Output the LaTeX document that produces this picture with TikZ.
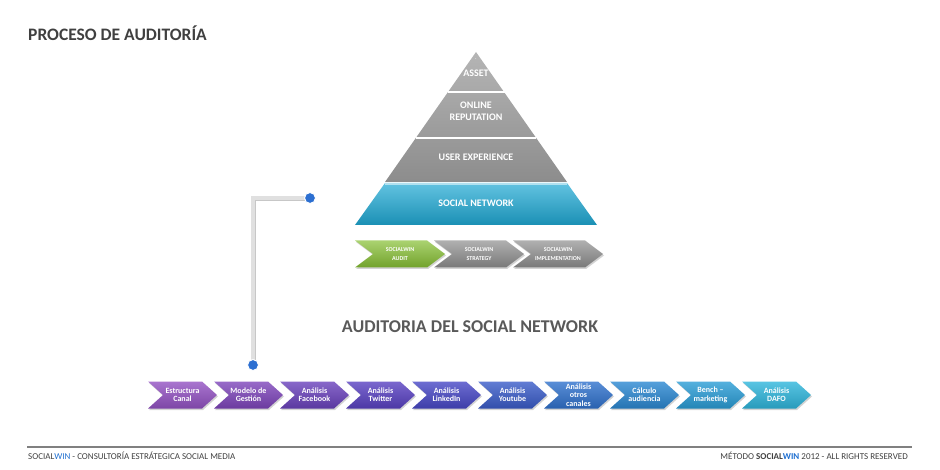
\documentclass[tikz,border=0pt]{standalone}
\usepackage{fontspec}
\setmainfont{Carlito}
\usetikzlibrary{shapes.symbols,shadows,backgrounds}

\definecolor{titlegrey}{HTML}{404040}
\definecolor{headgrey}{HTML}{595959}
\definecolor{pyrgrey}{HTML}{9C9C9C}
\definecolor{pyrblue}{HTML}{1FA9D4}
\definecolor{winblue}{HTML}{1F6FD0}
\definecolor{dotblue}{HTML}{2C6FD1}
\definecolor{auditgreen}{HTML}{86BF33}
\definecolor{phasegrey}{HTML}{8E8E8E}
\definecolor{chA}{HTML}{9352C3}
\definecolor{chB}{HTML}{7E45BB}
\definecolor{chC}{HTML}{6A42BC}
\definecolor{chD}{HTML}{5941C2}
\definecolor{chE}{HTML}{4848C6}
\definecolor{chF}{HTML}{3A5CC9}
\definecolor{chG}{HTML}{3072CD}
\definecolor{chH}{HTML}{2B88D2}
\definecolor{chI}{HTML}{2A9DD6}
\definecolor{chJ}{HTML}{2FB6DC}

\begin{document}
\begin{tikzpicture}[x=1pt,y=-1pt,
  chev/.style={signal, signal from=west, signal to=east, draw=none, inner sep=0pt,
    text=white, align=center,
    drop shadow={opacity=0.35, shadow xshift=1pt, shadow yshift=-1.5pt}},
  taskchev/.style={chev, signal pointer angle=84, minimum width=69pt, minimum height=27pt,
    font=\bfseries\fontsize{8}{8.4}\selectfont},
  phasechev/.style={chev, signal pointer angle=74, minimum width=90pt, minimum height=27pt,
    font=\bfseries\fontsize{6}{9}\selectfont},
  pyrlabel/.style={text=white, align=center, font=\bfseries\fontsize{10}{11.5}\selectfont},
  bluedot/.style={circle, fill=dotblue, draw=white, line width=1pt, minimum size=11pt, inner sep=0pt}]

\useasboundingbox (0,0) rectangle (940,470);

\node[anchor=base west, inner sep=0pt, text=titlegrey, font=\bfseries\fontsize{17.5}{19}\selectfont] (title) at (28,41) {PROCESO DE AUDITORÍA};

% piramide
\shade[top color=pyrgrey!75!white, bottom color=pyrgrey!90!black] (476,52) -- (385,182) -- (567,182) -- cycle;
\draw[white, line width=2.5pt] (447.5,92) -- (504.5,92);
\draw[white, line width=2.5pt] (416,138) -- (536,138);
\shade[top color=pyrblue!70!white, bottom color=pyrblue!85!black] (385,183) -- (567,183) -- (597,225) -- (355,225) -- cycle;
\draw[pyrblue!35!white, line width=1.5pt] (385,184) -- (567,184);

\node[text=white, font=\fontsize{6}{6}\selectfont] (apexdot) at (476,59) {.};
\node[pyrlabel] (asset) at (476,73) {ASSET};
\node[pyrlabel] (reputation) at (476,111.5) {ONLINE\\REPUTATION};
\node[pyrlabel] (ux) at (476,157) {USER EXPERIENCE};
\node[pyrlabel] (socialnet) at (476,203) {SOCIAL NETWORK};

\foreach \i/\c/\t in {0/auditgreen/{SOCIALWIN\\AUDIT}, 1/phasegrey/{SOCIALWIN\\STRATEGY}, 2/phasegrey/{SOCIALWIN\\IMPLEMENTATION}}{
  \node[phasechev, top color=\c!70!white, bottom color=\c!85!black] (phase\i) at (400+79*\i,254) {\t};
}

\node[anchor=base, inner sep=0pt, text=headgrey, font=\bfseries\fontsize{18}{20}\selectfont] (auditheading) at (470,333) {AUDITORIA DEL SOCIAL NETWORK};

\foreach \i/\c/\t in {0/chA/{Estructura\\Canal}, 1/chB/{Modelo de\\Gestión}, 2/chC/{Análisis\\Facebook},
  3/chD/{Análisis\\Twitter}, 4/chE/{Análisis\\LinkedIn}, 5/chF/{Análisis\\Youtube},
  6/chG/{Análisis\\otros\\canales}, 7/chH/{Cálculo\\audiencia}, 8/chI/{Bench –\\marketing}, 9/chJ/{Análisis\\DAFO}}{
  \node[taskchev, top color=\c!80!white, bottom color=\c!85!black] (task\i) at (182.5+66*\i,395) {\t};
}

\node[bluedot] (topdot) at (310,198) {};
\node[bluedot] (botdot) at (253,365) {};
\begin{pgfonlayer}{background}
\draw[black!22, line width=4pt] ([shift={(1,1)}]topdot.center) -| ([shift={(1,1)}]botdot.center);
\draw[black!12, line width=3.5pt] (topdot.center) -| (botdot.center);
\end{pgfonlayer}

% pie
\draw[black!50, line width=2pt] (27,447) -- (912,447);
\node[anchor=base west, inner sep=0pt, text=titlegrey, font=\fontsize{9}{10}\selectfont] (footleft) at (28,459)
  {SOCIAL\textcolor{winblue}{WIN} - CONSULTORÍA ESTRÁTEGICA SOCIAL MEDIA};
\node[anchor=base east, inner sep=0pt, text=titlegrey, font=\fontsize{9}{10}\selectfont] (footright) at (908,459)
  {MÉTODO \textbf{SOCIAL\textcolor{winblue}{WIN}} 2012 - ALL RIGHTS RESERVED};
\end{tikzpicture}
\end{document}
